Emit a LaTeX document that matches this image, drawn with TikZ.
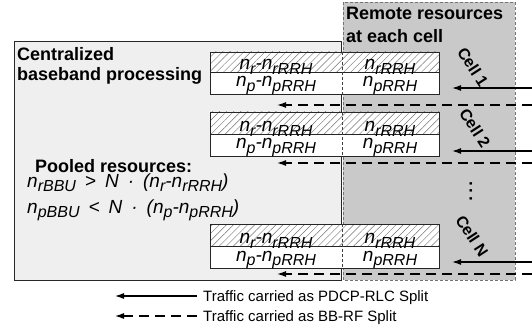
\documentclass[tikz,border=0pt]{standalone}
\usepackage{fontspec}
\setmainfont{Liberation Sans}
\usetikzlibrary{arrows.meta,patterns.meta}
\newcommand\sbs[1]{\raisebox{-0.26em}{\fontsize{16}{16}\selectfont #1}}
\newcommand\gp{\hspace{9pt}}
\definecolor{leftfill}{HTML}{EFEFEF}
\definecolor{rightfill}{HTML}{C9C9C9}
\tikzset{
  head/.style={font=\fontsize{18}{18}\selectfont\bfseries, inner sep=0pt, anchor=base west},
  formula/.style={font=\fontsize{19}{19}\selectfont\itshape, inner sep=0pt, anchor=base west},
  celltxt/.style={font=\fontsize{19}{19}\selectfont\itshape, inner sep=0pt, anchor=base},
  celllab/.style={font=\fontsize{16}{16}\selectfont\bfseries, inner sep=0pt, rotate=-57},
  legend/.style={font=\fontsize{15}{15}\selectfont, inner sep=0pt, anchor=base west},
  hatch/.style={preaction={fill=white}, pattern={Lines[angle=45,distance=5pt,line width=0.45pt]}, pattern color=black!55},
  blockline/.style={draw=black!85, line width=0.9pt},
  divider/.style={draw=black!75, line width=0.6pt, dash pattern=on 3pt off 2pt},
  solidarrow/.style={draw=black, line width=1.3pt, -{Latex[length=9pt,width=6pt]}},
  dasharrow/.style={draw=black, line width=1.3pt, dash pattern=on 10pt off 6pt, -{Latex[length=9pt,width=6pt]}},
}
\begin{document}
\begin{tikzpicture}[x=1pt,y=-1pt]
\useasboundingbox (0,0) rectangle (532,331);
% boxes
\path[fill=leftfill, draw=black!85, line width=1pt] (14,42) rectangle (341,280);
\coordinate (lbox) at (14,42);
\path[fill=rightfill, draw=black!55, line width=0.8pt, dash pattern=on 3pt off 2pt] (343,2) rectangle (515,280);
\coordinate (rbox) at (343,2);
% headings
\node[head] (cen1) at (17,61) {Centralized};
\node[head] (cen2) at (17,81) {baseband processing};
\node[head] (rem1) at (346,20) {Remote resources};
\node[head] (rem2) at (346,43) {at each cell};
\node[head] (pool) at (35,172) {Pooled resources:};
\node[formula] (f1) at (27,187) {n\sbs{rBBU}\gp>\gp N\gp·\gp(n\sbs{r}-n\sbs{rRRH})};
\node[formula] (f2) at (27,213) {n\sbs{pBBU}\gp<\gp N\gp·\gp(n\sbs{p}-n\sbs{pRRH})};
% blocks
\foreach \i/\T/\M/\B in {1/52/72/94, 2/112/134/156, 3/224/246/268}{
  \path[hatch] (210,\T) rectangle (439,\M);
  \path[fill=white] (210,\M) rectangle (439,\B);
  \draw[blockline] (210,\T) rectangle (439,\B);
  \draw[blockline] (210,\M) -- (439,\M);
  \draw[divider] (342,\T) -- (342,\B);
  \node[celltxt] (hl\i) at (276,\M-2.5) {n\sbs{r}-n\sbs{rRRH}};
  \node[celltxt] (hr\i) at (390,\M-2.5) {n\sbs{rRRH}};
  \node[celltxt] (wl\i) at (276,\B-7) {n\sbs{p}-n\sbs{pRRH}};
  \node[celltxt] (wr\i) at (390,\B-7) {n\sbs{pRRH}};
}
% cell labels
\node[celllab] (c1) at (473,67) {Cell 1};
\node[celllab] (c2) at (475,128) {Cell 2};
\node[celllab] (cN) at (472,236) {Cell N};
\node[font=\fontsize{17}{17}\selectfont\bfseries, inner sep=0pt, rotate=-90] (dots) at (471,191) {.\,.\,.};
% traffic arrows
\foreach \i/\s/\d in {1/88/105, 2/151/163, 3/262/274}{
  \coordinate (sa\i) at (532,\s);
  \coordinate (sb\i) at (452,\s);
  \coordinate (da\i) at (532,\d);
  \coordinate (db\i) at (277,\d);
  \draw[solidarrow] (sa\i) -- (sb\i);
  \draw[dasharrow] (da\i) -- (db\i);
}
% legend
\coordinate (la1) at (197,296);
\coordinate (lb1) at (115,296);
\coordinate (la2) at (197,316);
\coordinate (lb2) at (115,316);
\draw[solidarrow, line width=1.1pt] (la1) -- (lb1);
\draw[dasharrow, line width=1.1pt] (la2) -- (lb2);
\node[legend] (l1) at (203,301.5) {Traffic carried as PDCP-RLC Split};
\node[legend] (l2) at (203,321.5) {Traffic carried as BB-RF Split};
\end{tikzpicture}
\end{document}
